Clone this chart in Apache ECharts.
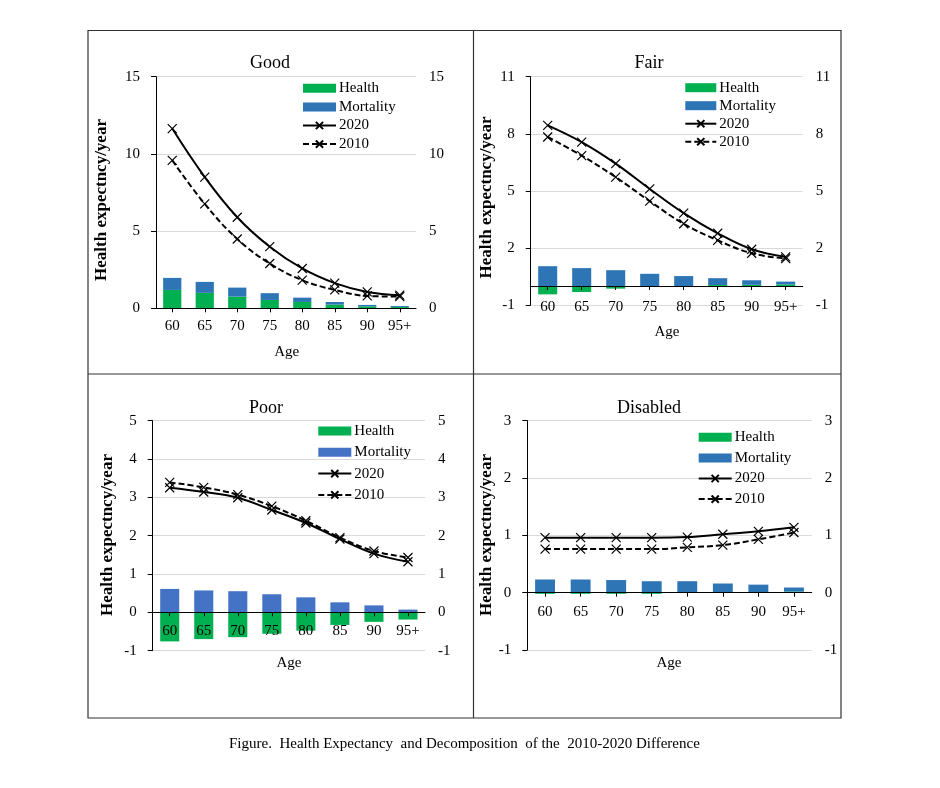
<!DOCTYPE html>
<html><head><meta charset="utf-8">
<script src="https://cdn.jsdelivr.net/npm/echarts@6/dist/echarts.min.js"></script>
<style>html,body{margin:0;padding:0;background:#fff}#c{width:940px;height:788px}</style>
</head><body><div id="c"></div>
<script>
// ---------- data ----------
const ages = ['60','65','70','75','80','85','90','95+'];

const goodHealth    = [1.19, 1.00, 0.76, 0.54, 0.41, 0.24, 0.13, 0.09];
const goodMortality = [0.78, 0.71, 0.58, 0.44, 0.28, 0.17, 0.09, 0.06];
const good2020      = [11.64, 8.50, 5.90, 3.99, 2.58, 1.63, 1.06, 0.85];
const good2010      = [9.58, 6.76, 4.49, 2.90, 1.82, 1.19, 0.80, 0.76];

const fairHealth    = [-0.44, -0.32, -0.14, -0.02, 0.00, 0.05, 0.06, 0.08];
const fairMortality = [1.04, 0.94, 0.83, 0.64, 0.52, 0.36, 0.24, 0.15];
const fair2020      = [8.44, 7.56, 6.43, 5.10, 3.83, 2.77, 1.93, 1.53];
const fair2010      = [7.83, 6.85, 5.72, 4.46, 3.27, 2.40, 1.72, 1.44];

const poorHealth    = [-0.76, -0.70, -0.65, -0.56, -0.48, -0.33, -0.25, -0.19];
const poorMortality = [0.61, 0.57, 0.55, 0.47, 0.39, 0.26, 0.18, 0.07];
const poor2020      = [3.25, 3.14, 2.99, 2.67, 2.33, 1.91, 1.53, 1.32];
const poor2010      = [3.39, 3.26, 3.07, 2.77, 2.39, 1.95, 1.60, 1.43];

const disHealth     = [-0.02, -0.02, -0.02, -0.02, 0.00, 0.00, 0.00, 0.02];
const disMortality  = [0.23, 0.23, 0.22, 0.20, 0.20, 0.16, 0.14, 0.07];
const dis2020       = [0.96, 0.96, 0.96, 0.96, 0.97, 1.02, 1.07, 1.14];
const dis2010       = [0.76, 0.76, 0.76, 0.76, 0.79, 0.83, 0.93, 1.05];

const goodTicks = [0, 5, 10, 15];
const fairTicks = [-1, 2, 5, 8, 11];
const poorTicks = [-1, 0, 1, 2, 3, 4, 5];
const disTicks  = [-1, 0, 1, 2, 3];

const panelTitles = ['Good', 'Fair', 'Poor', 'Disabled'];
const seriesNames = ['Health', 'Mortality', '2020', '2010'];
const xAxisTitle = 'Age';
const yAxisTitle = 'Health expectncy/year';
const caption = 'Figure.  Health Expectancy  and Decomposition  of the  2010-2020 Difference';

// ---------- layout / style ----------
const FONT = '"Liberation Serif","Times New Roman",serif';
const GREEN = '#00B050';
const XPATH = 'path://M0,0L10,10M10,0L0,10';

const panels = [
  {health: goodHealth, mort: goodMortality, y20: good2020, y10: good2010, ticks: goodTicks, blue: '#2E75B6',
   grid: {left: 156, top: 76.7, width: 260, height: 231.6}, lm: 10, lo: 0,
   title: [270, 63], age: [286.7, 351.7], yt: [102, 200], lg: {left: 302, top: 80.8, gap: 3.6, w: 33}},
  {health: fairHealth, mort: fairMortality, y20: fair2020, y10: fair2010, ticks: fairTicks, blue: '#2E75B6',
   grid: {left: 530.7, top: 76.7, width: 272, height: 228.3}, lm: 12, lo: -17.7,
   title: [649, 63], age: [667, 331.7], yt: [486.7, 197.5], lg: {left: 684.3, top: 80.2, gap: 3, w: 31}},
  {health: poorHealth, mort: poorMortality, y20: poor2020, y10: poor2010, ticks: poorTicks, blue: '#4472C4',
   grid: {left: 152.7, top: 420.7, width: 272.3, height: 229.9}, lm: 11, lo: -38.3,
   title: [266, 408], age: [289, 663], yt: [108, 535], lg: {left: 317.3, top: 423.5, gap: 6.3, w: 33}},
  {health: disHealth, mort: disMortality, y20: dis2020, y10: dis2010, ticks: disTicks, blue: '#2E75B6',
   grid: {left: 527.3, top: 420.7, width: 284.4, height: 229.3}, lm: 12, lo: -57.3,
   title: [649, 408], age: [669, 663], yt: [486.7, 535], lg: {left: 697.7, top: 429.8, gap: 5.6, w: 33}}
];

const grids = [], xAxes = [], yAxes = [], series = [], legends = [], graphics = [];

panels.forEach((p, i) => {
  grids.push(Object.assign({containLabel: false}, p.grid));
  // axis line + ticks, sitting on zero
  xAxes.push({
    type: 'category', gridIndex: i, data: ages, boundaryGap: true, z: 10,
    axisLine: {show: true, onZero: true, lineStyle: {color: '#000', width: 1}},
    axisTick: {show: true, alignWithLabel: true, length: 4, lineStyle: {color: '#000'}},
    axisLabel: {show: false},
    splitLine: {show: false}
  });
  // tick labels only
  xAxes.push({
    type: 'category', gridIndex: i, data: ages, boundaryGap: true, z: 10, position: 'bottom', offset: p.lo,
    axisLine: {show: false, onZero: false}, axisTick: {show: false},
    axisLabel: {show: true, fontFamily: FONT, fontSize: 15, color: '#000', margin: p.lm},
    splitLine: {show: false}
  });
  const mn = p.ticks[0], mx = p.ticks[p.ticks.length - 1];
  yAxes.push({
    type: 'value', gridIndex: i, position: 'left', min: mn, max: mx,
    axisLine: {show: true, onZero: false, lineStyle: {color: '#000', width: 1}},
    axisTick: {show: true, length: 5, lineStyle: {color: '#000'}, customValues: p.ticks},
    axisLabel: {fontFamily: FONT, fontSize: 15, color: '#000', margin: 16, customValues: p.ticks},
    splitLine: {show: true, lineStyle: {color: '#d9d9d9', width: 1}}
  });
  yAxes.push({
    type: 'value', gridIndex: i, position: 'right', min: mn, max: mx,
    axisLine: {show: false}, axisTick: {show: false, customValues: p.ticks},
    axisLabel: {fontFamily: FONT, fontSize: 15, color: '#000', margin: 13, customValues: p.ticks},
    splitLine: {show: false}
  });
  series.push({type: 'bar', name: seriesNames[0], xAxisIndex: 2 * i, yAxisIndex: 2 * i, stack: 's' + i,
    data: p.health, barWidth: '56%', itemStyle: {color: GREEN}, z: 2});
  series.push({type: 'bar', name: seriesNames[1], xAxisIndex: 2 * i, yAxisIndex: 2 * i, stack: 's' + i,
    data: p.mort, barWidth: '56%', itemStyle: {color: p.blue}, z: 2});
  series.push({type: 'line', name: seriesNames[2], xAxisIndex: 2 * i, yAxisIndex: 2 * i + 1, data: p.y20,
    smooth: 0.4, symbol: XPATH, symbolSize: 9, showSymbol: true,
    lineStyle: {color: '#000', width: 2, type: 'solid'},
    itemStyle: {color: '#000', borderColor: '#000', borderWidth: 1.2}, z: 4});
  series.push({type: 'line', name: seriesNames[3], xAxisIndex: 2 * i, yAxisIndex: 2 * i + 1, data: p.y10,
    smooth: 0.4, symbol: XPATH, symbolSize: 9, showSymbol: true,
    lineStyle: {color: '#000', width: 2, type: [6, 3]},
    itemStyle: {color: '#000', borderColor: '#000', borderWidth: 1.2}, z: 4});
  legends.push({
    orient: 'vertical', left: p.lg.left, top: p.lg.top, padding: 0, itemGap: p.lg.gap,
    itemWidth: p.lg.w, itemHeight: 9, selectedMode: false,
    textStyle: {fontFamily: FONT, fontSize: 15, color: '#000', lineHeight: 15, padding: [0, 0, 0, -2]},
    data: [
      {name: seriesNames[0], icon: 'rect', itemStyle: {color: GREEN}},
      {name: seriesNames[1], icon: 'rect', itemStyle: {color: p.blue}},
      seriesNames[2], seriesNames[3]
    ]
  });
  graphics.push({type: 'text', x: p.title[0], y: p.title[1], silent: true,
    style: {text: panelTitles[i], fontFamily: FONT, fontSize: 18, fill: '#000', textAlign: 'center', textVerticalAlign: 'middle'}});
  graphics.push({type: 'text', x: p.age[0], y: p.age[1], silent: true,
    style: {text: xAxisTitle, fontFamily: FONT, fontSize: 15, fill: '#000', textAlign: 'center', textVerticalAlign: 'middle'}});
  graphics.push({type: 'text', x: p.yt[0], y: p.yt[1], rotation: Math.PI / 2, silent: true,
    style: {text: yAxisTitle, fontFamily: FONT, fontSize: 17, fontWeight: 'bold', fill: '#000', textAlign: 'center', textVerticalAlign: 'middle'}});
});

// frame
graphics.push({type: 'rect', silent: true, shape: {x: 88, y: 30.5, width: 753, height: 687.5},
  style: {fill: 'none', stroke: '#333', lineWidth: 1.2}});
graphics.push({type: 'line', silent: true, shape: {x1: 473.5, y1: 30.5, x2: 473.5, y2: 718},
  style: {stroke: '#333', lineWidth: 1.2}});
graphics.push({type: 'line', silent: true, shape: {x1: 88, y1: 374, x2: 841, y2: 374},
  style: {stroke: '#333', lineWidth: 1.2}});
graphics.push({type: 'text', x: 229, y: 744, silent: true,
  style: {text: caption, fontFamily: FONT, fontSize: 15, fill: '#000', textAlign: 'left', textVerticalAlign: 'middle'}});

const chart = echarts.init(document.getElementById('c'), null, {renderer: 'canvas'});
chart.setOption({
  animation: false,
  backgroundColor: '#fff',
  textStyle: {fontFamily: FONT},
  grid: grids, xAxis: xAxes, yAxis: yAxes, series: series, legend: legends, graphic: graphics
});
</script>
</body></html>
